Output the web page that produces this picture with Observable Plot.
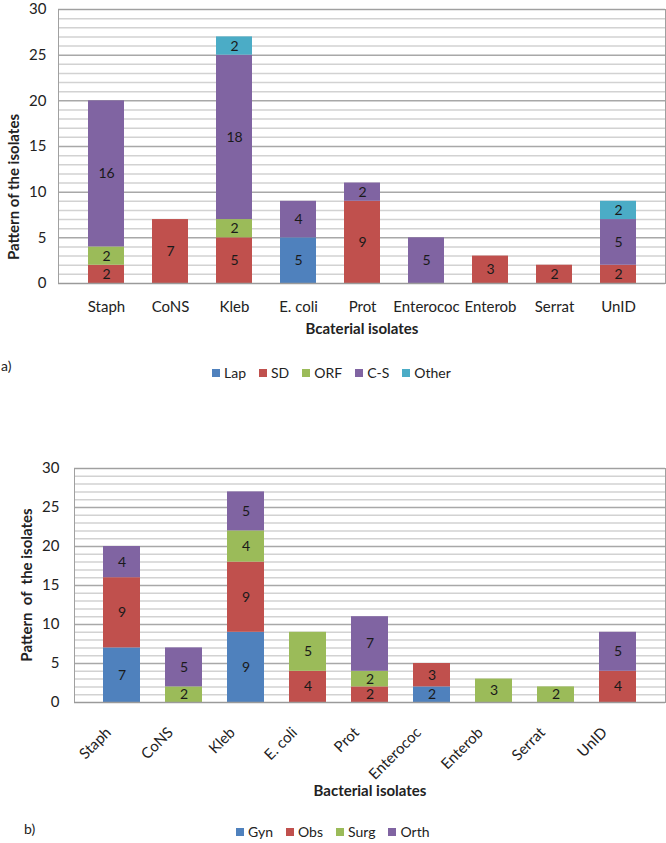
<!DOCTYPE html>
<html><head><meta charset="utf-8">
<script src="https://cdn.jsdelivr.net/npm/d3@7"></script>
<script src="https://cdn.jsdelivr.net/npm/@observablehq/plot@0.6"></script>
<style>
body{margin:0;background:#fff;font-family:Lato,sans-serif;}
#wrap{position:relative;width:666px;height:843px;overflow:hidden;background:#fff;}
.chart{position:absolute;left:0;}
.legend{position:absolute;display:flex;gap:13px;font-size:14px;color:#222;align-items:center;white-space:nowrap;}
.legend .item{display:flex;align-items:center;}
.legend .sw{display:inline-block;width:8px;height:8px;margin-right:4px;}
.tag{position:absolute;font-size:14px;color:#222;}
.ytitle{position:absolute;font-size:15px;font-weight:bold;color:#222;white-space:pre;transform:translate(-50%,-50%) rotate(-90deg);}
</style></head><body><div id="wrap"></div>
<script>
const categories = ["Staph","CoNS","Kleb","E. coli","Prot","Enterococ","Enterob","Serrat","UnID"];

// Chart a)
const seriesA = ["Lap","SD","ORF","C-S","Other"];
const lapA   = [0,0,0,5,0,0,0,0,0];
const sdA    = [2,7,5,0,9,0,3,2,2];
const orfA   = [2,0,2,0,0,0,0,0,0];
const csA    = [16,0,18,4,2,5,0,0,5];
const otherA = [0,0,2,0,0,0,0,0,2];

// Chart b)
const seriesB = ["Gyn","Obs","Surg","Orth"];
const gynB  = [7,0,9,0,0,2,0,0,0];
const obsB  = [9,0,9,4,2,3,0,0,4];
const surgB = [0,2,4,5,2,0,3,2,0];
const orthB = [4,5,5,0,7,0,0,0,5];

const yTicks = [0,5,10,15,20,25,30];
const colors = ["#4F81BD","#C0504D","#9BBB59","#8064A2","#4BACC6"];

function toRows(series, values){
  const rows = [];
  series.forEach((s,i)=>categories.forEach((c,j)=>{
    if (values[i][j] > 0) rows.push({cat:c, series:s, value:values[i][j]});
  }));
  return rows;
}

function chart(o){
  const rows = toRows(o.series, o.values);
  const marks = [
    Plot.ruleY(d3.range(1,30).filter(v => v % 5 !== 0), {stroke: "#d2d2d2", strokeWidth: 1.5}),
    Plot.ruleY(yTicks.slice(1), {stroke: "#a8a8a8", strokeWidth: 1.5}),
    Plot.barY(rows, {x: "cat", y: "value", fill: "series", z: "series", order: o.series}),
    Plot.text(rows, Plot.stackY({x: "cat", y: "value", z: "series", text: "value", order: o.series, fill: "#1a1a1a", fontSize: 14})),
    Plot.frame({stroke: "#a0a0a0"}),
    Plot.ruleY([0], {stroke: "#9a9a9a", strokeWidth: 1.5}),
    Plot.text([o.xTitle], {frameAnchor: "bottom", dy: o.xTitleDy, fontWeight: "bold", fontSize: 15, fill: "#222"})
  ];
  if (o.rotate) {
    marks.push(Plot.text(categories, {x: d => d, frameAnchor: "bottom", rotate: -45, textAnchor: "end", dy: o.xPad, dx: o.xDx, fontSize: 15, fill: "#222"}));
  }
  return Plot.plot({
    width: 666, height: o.height,
    marginLeft: o.ml, marginRight: 1, marginTop: o.mt, marginBottom: o.mb,
    style: {fontFamily: "Lato, sans-serif", fontSize: "15px", color: "#222", background: "white", overflow: "visible"},
    x: {domain: categories, padding: o.padding, label: null, tickSize: 0, tickPadding: o.xPad, axis: o.rotate ? null : "bottom"},
    y: {domain: [0,30], ticks: yTicks, label: null, tickSize: 0, tickPadding: o.yPad},
    color: {domain: o.series, range: colors.slice(0, o.series.length)},
    marks
  });
}

const wrap = document.getElementById("wrap");

const a = chart({series: seriesA, values: [lapA, sdA, orfA, csA, otherA],
  height: 345, ml: 58, mt: 9, mb: 62, padding: 0.44, xPad: 18, yPad: 12,
  xTitle: "Bcaterial isolates", xTitleDy: 50});
a.classList.add("chart"); a.style.top = "0px";
wrap.appendChild(a);

const b = chart({series: seriesB, values: [gynB, obsB, surgB, orthB],
  height: 407, ml: 74, mt: 68, mb: 105, padding: 0.41, xPad: 31, xDx: -10, yPad: 15, rotate: true,
  xTitle: "Bacterial isolates", xTitleDy: 93});
b.classList.add("chart"); b.style.top = "400px";
wrap.appendChild(b);

function ytitle(t, x, y){
  const d = document.createElement("div"); d.className = "ytitle";
  d.style.left = x + "px"; d.style.top = y + "px"; d.textContent = t;
  wrap.appendChild(d);
}
ytitle("Pattern of the isolates", 13, 187);
ytitle("Pattern  of  the isolates", 26, 585);

function legend(series, left, top){
  const d = document.createElement("div");
  d.className = "legend";
  d.style.left = left + "px"; d.style.top = top + "px";
  series.forEach((s,i)=>{
    const it = document.createElement("div"); it.className = "item";
    const sw = document.createElement("span"); sw.className = "sw"; sw.style.background = colors[i];
    it.appendChild(sw); it.appendChild(document.createTextNode(s));
    d.appendChild(it);
  });
  wrap.appendChild(d);
}
legend(seriesA, 212, 364);
legend(seriesB, 236, 823);

function tag(t, left, top){
  const d = document.createElement("div"); d.className = "tag";
  d.style.left = left + "px"; d.style.top = top + "px"; d.textContent = t;
  wrap.appendChild(d);
}
tag("a)", 1, 357);
tag("b)", 24, 820);
</script></body></html>
